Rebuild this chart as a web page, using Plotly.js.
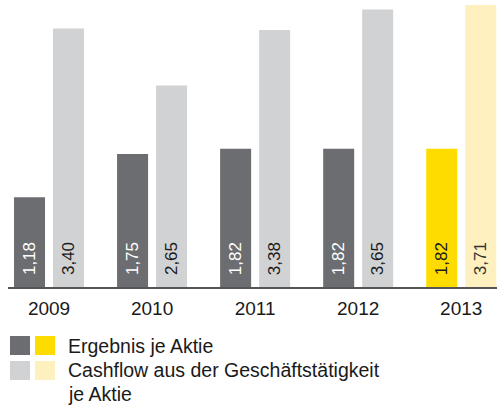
<!DOCTYPE html>
<html>
<head>
<meta charset="utf-8">
<script src="https://cdn.plot.ly/plotly-3.0.1.min.js"></script>
<style>
  html, body { margin: 0; padding: 0; background: #fff; }
  #chart { width: 497px; height: 405px; }
</style>
</head>
<body>
<div id="chart"></div>
<script>
// data
var years = ['2009', '2010', '2011', '2012', '2013'];
var ergebnis = [1.18, 1.75, 1.82, 1.82, 1.82];
var cashflow = [3.40, 2.65, 3.38, 3.65, 3.71];
var ergebnisLabels = ['1,18', '1,75', '1,82', '1,82', '1,82'];
var cashflowLabels = ['3,40', '2,65', '3,38', '3,65', '3,71'];
var legendLines = [['Ergebnis je Aktie'], ['Cashflow aus der Geschäftstätigkeit', 'je Aktie']];

var FONT = 'Liberation Sans, Arial, Helvetica, sans-serif';
var DARK = '#6c6d70', LIGHT = '#d1d2d4', YELLOW = '#ffdc00', PALE = '#fff0c0';

// last year highlighted in yellow
function colorsFor(base, hi) {
    return years.map(function (y, i) { return i === years.length - 1 ? hi : base; });
}

var trace1 = {
    type: 'bar', name: 'Ergebnis je Aktie',
    x: years, y: ergebnis,
    marker: { color: colorsFor(DARK, YELLOW) },
    hoverinfo: 'none'
};
var trace2 = {
    type: 'bar', name: 'Cashflow aus der Geschäftstätigkeit je Aktie',
    x: years, y: cashflow,
    marker: { color: colorsFor(LIGHT, PALE) },
    hoverinfo: 'none'
};

// value labels, rotated, sitting near the foot of each bar
// (x given as category index so '2009' is not read as a number)
var annotations = [];
years.forEach(function (yr, i) {
    var last = i === years.length - 1;
    annotations.push({
        x: i, y: 0, xref: 'x', yref: 'y', xshift: -19.5, yshift: 10,
        text: ergebnisLabels[i], textangle: -90, showarrow: false,
        xanchor: 'center', yanchor: 'bottom',
        font: { family: FONT, size: 17, color: last ? '#1a1a1a' : '#ffffff' }
    });
    annotations.push({
        x: i, y: 0, xref: 'x', yref: 'y', xshift: 19.5, yshift: 10,
        text: cashflowLabels[i], textangle: -90, showarrow: false,
        xanchor: 'center', yanchor: 'bottom',
        font: { family: FONT, size: 17, color: last ? '#333333' : '#1a1a1a' }
    });
});

// custom legend: two squares per series, text to the right
var legendColors = [[DARK, YELLOW], [LIGHT, PALE]];
var rowTop = [-49, -74];   // pixel offsets from plot bottom
var lineShift = [[-58.5], [-83, -107]];
var shapes = [];
legendLines.forEach(function (lines, r) {
    legendColors[r].forEach(function (c, k) {
        shapes.push({
            type: 'rect', xref: 'paper', yref: 'paper',
            xsizemode: 'pixel', ysizemode: 'pixel', xanchor: 0, yanchor: 0,
            x0: 2 + k * 25, x1: 22 + k * 25, y0: rowTop[r] - 19, y1: rowTop[r],
            fillcolor: c, line: { width: 0 }
        });
    });
    lines.forEach(function (t, j) {
        annotations.push({
            x: 58 / 489, y: 0, xref: 'paper', yref: 'paper', yshift: lineShift[r][j],
            text: t, showarrow: false, xanchor: 'left', yanchor: 'middle',
            font: { family: FONT, size: 19.5, color: '#1a1a1a' }
        });
    });
});

var layout = {
    width: 497, height: 405,
    margin: { l: 8, r: 0, t: 0, b: 118, pad: 0 },
    paper_bgcolor: '#ffffff', plot_bgcolor: '#ffffff',
    barmode: 'group', bargap: 0.243, bargroupgap: 0.205,
    showlegend: false,
    font: { family: FONT },
    xaxis: {
        type: 'category', range: [-0.398, 4.347], fixedrange: true,
        showline: true, linecolor: '#555555', linewidth: 1.5,
        ticks: '', showgrid: false, zeroline: false, ticklabelstandoff: 4,
        tickfont: { family: FONT, size: 19, color: '#1a1a1a' }
    },
    yaxis: {
        range: [0, 3.776], showline: false, showticklabels: false, ticks: '',
        showgrid: false, zeroline: false, fixedrange: true
    },
    shapes: shapes,
    annotations: annotations
};

Plotly.newPlot('chart', [trace1, trace2], layout, { displayModeBar: false, staticPlot: true });
</script>
</body>
</html>
